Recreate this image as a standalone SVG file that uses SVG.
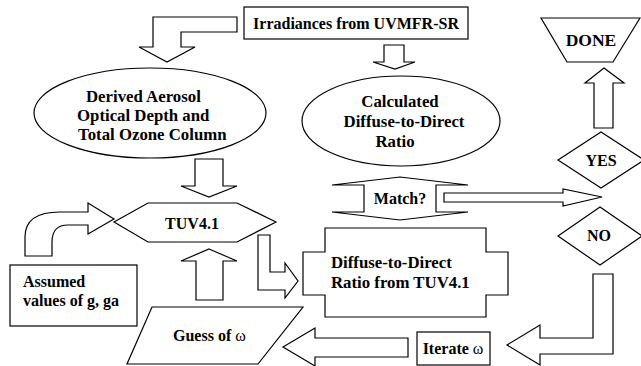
<svg xmlns="http://www.w3.org/2000/svg" width="641" height="366" viewBox="0 0 641 366">
  <style>
    .shape { fill: #fff; stroke: #000; stroke-width: 1.2; stroke-linejoin: miter; }
    .arrow { fill: #fff; stroke: #000; stroke-width: 1.2; stroke-linejoin: miter; }
    .lbl { font-family: "Liberation Serif", "Times New Roman", serif; font-weight: bold; font-size: 16px; fill: #000; }
    .big { font-size: 16.8px; }
    .mid { text-anchor: middle; }
    .greek { font-weight: normal; }
  </style>
  <rect width="641" height="366" fill="#fff"/>

  <!-- block arrows between the steps -->
  <g id="connectors">
    <!-- irradiances -> aerosol / ozone retrieval -->
    <polygon class="arrow" points="237,17 153,17 153,47 139,47 167,62 195,47 181,47 181,32 237,32"/>
    <!-- irradiances -> measured diffuse/direct ratio -->
    <polygon class="arrow" points="384,45 404,45 404,62 415,62 395,69 373,62 384,62"/>
    <!-- retrieval -> TUV4.1 -->
    <polygon class="arrow" points="195,159 223,159 223,186 237,186 209,197 181,186 195,186"/>
    <!-- assumed g, ga -> TUV4.1 -->
    <path class="arrow" d="M25,256 L25,237 Q25,212 60,212 L88,212 L88,203 L114,219 L88,234 L88,225 L68,225 Q52,225 52,242 L52,256 Z"/>
    <!-- guess of omega -> TUV4.1 -->
    <polygon class="arrow" points="209,249 237,261 223,261 223,300 196,300 196,261 181,261"/>
    <!-- TUV4.1 -> modelled ratio -->
    <polygon class="arrow" points="258,235 270,235 270,272 285,272 285,263 298,281 285,298 285,290 258,290"/>
    <!-- match? -> yes / no -->
    <polygon class="arrow" points="444,193 563,193 563,189 602,197 563,206 563,202 444,202"/>
    <!-- yes -> done -->
    <polygon class="arrow" points="604,68 624,83 613,83 613,128 594,128 594,83 585,83"/>
    <!-- no -> iterate -->
    <polygon class="arrow" points="593,274 613,274 613,354 540,354 540,365 507,345 540,325 540,338 593,338"/>
    <!-- iterate -> new guess -->
    <polygon class="arrow" points="408,338 315,338 315,328 283,347 315,366 315,357 408,357"/>
  </g>

  <g id="irradiances">
    <rect class="shape" x="244" y="7" width="224" height="32"/>
    <text class="lbl mid" x="356" y="29">Irradiances from UVMFR-SR</text>
  </g>

  <g id="retrieval">
    <ellipse class="shape" cx="150" cy="113" rx="116" ry="45"/>
    <text class="lbl big" x="86" y="102">Derived Aerosol</text>
    <text class="lbl big" x="77" y="121">Optical Depth and</text>
    <text class="lbl big" x="78" y="140">Total Ozone Column</text>
  </g>

  <g id="measured-ratio">
    <ellipse class="shape" cx="401" cy="121" rx="99" ry="45"/>
    <text class="lbl big mid" x="400" y="107">Calculated</text>
    <text class="lbl big mid" x="404" y="127">Diffuse-to-Direct</text>
    <text class="lbl big mid" x="395" y="147">Ratio</text>
  </g>

  <g id="tuv">
    <polygon class="shape" points="114,222 148,203 237,203 276,222 237,242 148,242"/>
    <text class="lbl mid" x="192" y="229">TUV4.1</text>
  </g>

  <g id="assumed">
    <rect class="shape" x="10" y="265" width="127" height="61"/>
    <text class="lbl" x="23" y="287">Assumed</text>
    <text class="lbl" x="23" y="306">values of g, ga</text>
  </g>

  <g id="guess">
    <polygon class="shape" points="152,307 303,307 258,364 127,364"/>
    <text class="lbl" x="173" y="341">Guess of <tspan class="greek">ω</tspan></text>
  </g>

  <g id="model-ratio">
    <polygon class="shape" points="325,228 486,228 486,252 508,252 508,295 486,295 486,317 325,317 325,295 303,295 303,252 325,252"/>
    <text class="lbl big" x="331" y="268">Diffuse-to-Direct</text>
    <text class="lbl big" x="331" y="288">Ratio from TUV4.1</text>
  </g>

  <g id="match">
    <polygon class="shape" points="400,177 468,185 436,185 436,212 468,212 400,220 332,212 364,212 364,185 332,185"/>
    <text class="lbl mid" x="400" y="204">Match?</text>
  </g>

  <g id="yes">
    <polygon class="shape" points="558,160 601,132 644,160 601,188"/>
    <text class="lbl mid" x="601" y="166">YES</text>
  </g>

  <g id="no">
    <polygon class="shape" points="558,236 600,207 642,236 600,265"/>
    <text class="lbl mid" x="599" y="241">NO</text>
  </g>

  <g id="done">
    <polygon class="shape" points="541,18 640,18 613,62 567,62"/>
    <text class="lbl mid" x="591" y="46" style="font-size:17.5px">DONE</text>
  </g>

  <g id="iterate">
    <rect class="shape" x="417" y="332" width="73" height="33"/>
    <text class="lbl mid" x="453" y="354">Iterate <tspan class="greek">ω</tspan></text>
  </g>
</svg>
